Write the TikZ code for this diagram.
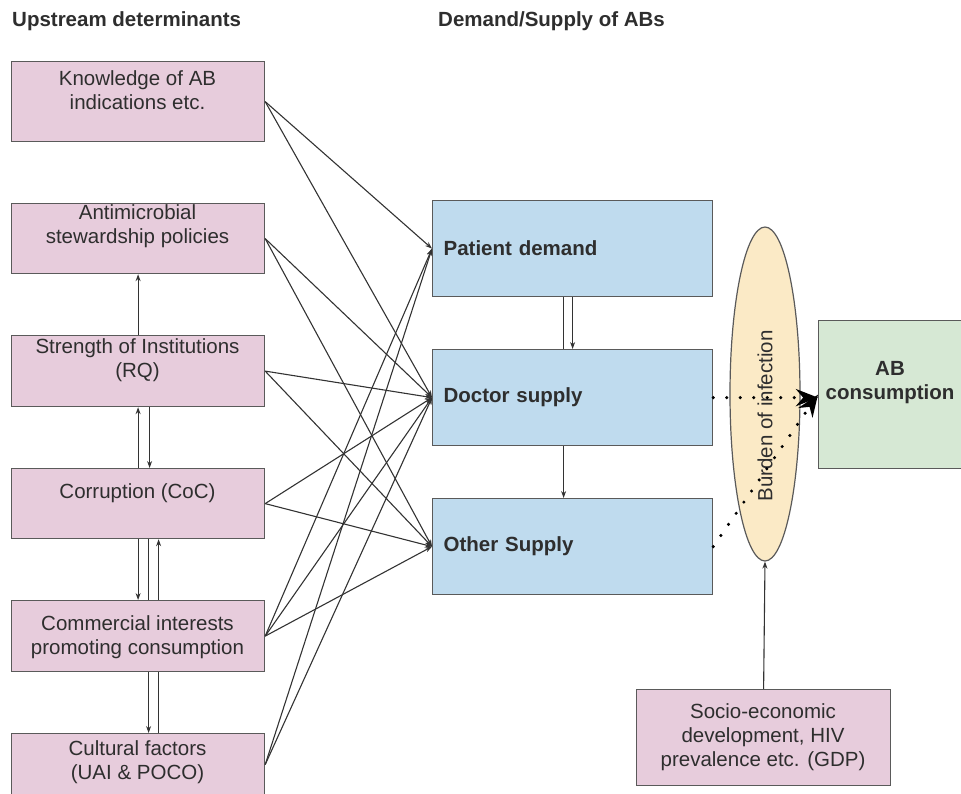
\documentclass[tikz,border=0pt]{standalone}
\usepackage{fontspec}
\setmainfont{Liberation Sans}
\usetikzlibrary{arrows.meta,calc,shapes.geometric}
\definecolor{pinkc}{HTML}{E7CCDC}
\definecolor{bluec}{HTML}{BFDBEE}
\definecolor{greenc}{HTML}{D6E8D4}
\definecolor{yelc}{HTML}{FBEAC6}
\definecolor{edgec}{HTML}{5A5A5A}
\definecolor{linec}{HTML}{333333}
\definecolor{txtc}{HTML}{2E2E2E}
\pgfdeclarelayer{bg}
\pgfsetlayers{bg,main}
\begin{document}
\begin{tikzpicture}[x=1pt,y=-1pt,
  pbox/.style={draw=edgec,line width=1.2pt,fill=pinkc,minimum width=253pt,inner sep=0pt,anchor=north west},
  bbox/.style={draw=edgec,line width=1.2pt,fill=bluec,minimum width=280pt,minimum height=96pt,anchor=north west,
    text width=258pt,align=left,inner xsep=11pt,inner ysep=0pt,font=\fontsize{20.5}{24}\selectfont\bfseries,text=txtc},
  lbl/.style={font=\fontsize{20.5}{24}\selectfont,align=center,text=txtc,inner sep=0pt},
  hdr/.style={font=\fontsize{20.5}{24}\selectfont\bfseries,text=txtc,inner sep=0pt,anchor=west},
  conn/.style={draw=linec,line width=1.1pt,-{Stealth[length=7pt,width=5pt]}},
  dotarr/.style={draw=black,line width=3.4pt,line cap=round,dash pattern=on 0pt off 13.5pt,
    -{Stealth[length=22pt 0,width=17pt 0]}}
]
\useasboundingbox (0,0) rectangle (961,793);

% headers
\node[hdr] (h1) at (12,21) {Upstream determinants};
\node[hdr] (h2) at (438,21) {Demand/Supply of ABs};

% left boxes
\node[pbox,minimum height=80pt] (kn) at (11,61) {};
\node[lbl] (knt) at (137.5,90) {Knowledge of AB\\indications etc.};
\node[pbox,minimum height=70pt] (am) at (11,203) {};
\node[lbl] (amt) at (137.5,226) {Antimicrobial\\stewardship policies};
\node[pbox,minimum height=71pt] (si) at (11,335) {};
\node[lbl] (sit) at (137.5,360) {Strength of Institutions\\(RQ)};
\node[pbox,minimum height=70pt] (co) at (11,468) {};
\node[lbl] (cot) at (137.5,493) {Corruption (CoC)};
\node[pbox,minimum height=71pt] (cm) at (11,600) {};
\node[lbl] (cmt) at (137.5,637) {Commercial interests\\promoting consumption};
\node[pbox,minimum height=62pt] (cu) at (11,733) {};
\node[lbl] (cut) at (137.5,762) {Cultural factors\\(UAI \& POCO)};

% blue boxes
\node[bbox] (pd) at (432,200) {Patient demand};
\node[bbox] (ds) at (432,349) {Doctor supply};
\node[bbox] (os) at (432,498) {Other Supply};

% ellipse
\node[ellipse,draw=edgec,line width=1.2pt,fill=yelc,minimum width=70pt,minimum height=334pt,inner sep=0pt] (bi) at (765,394) {};
\node[lbl,rotate=90] (bit) at (765,416) {Burden of infection};

% AB consumption
\node[draw=edgec,line width=1.2pt,fill=greenc,minimum width=146pt,minimum height=148pt,anchor=north west,inner sep=0pt] (ab) at (818,320) {};
\node[lbl,font=\fontsize{20.5}{24}\selectfont\bfseries] (abt) at (890,383) {AB\\consumption};

% socio-economic box
\node[pbox,minimum width=254pt,minimum height=96pt] (se) at (636,689) {};
\node[lbl] (set) at (763,737) {Socio-economic\\development, HIV\\prevalence etc. (GDP)};

% hidden lines (behind boxes)
\begin{pgfonlayer}{bg}
  \draw[conn] ([xshift=-9pt]pd.south) -- ([xshift=-9pt]os.north);
  \draw[conn] ([xshift=10.5pt]co.south) -- ([xshift=10.5pt]cu.north);
  \draw[conn] ([xshift=20.5pt]cu.north) -- ([xshift=20.5pt]co.south);
\end{pgfonlayer}

% vertical links among left boxes
\draw[conn] (si.north) -- (am.south);
\draw[conn] (co.north) -- (si.south);
\draw[conn] ([xshift=11.5pt]si.south) -- ([xshift=11.5pt]co.north);
\draw[conn] (co.south) -- (cm.north);

% blue links
\draw[conn] (pd.south) -- (ds.north);

% cross links
\draw[conn] (kn.east) -- (pd.west);
\draw[conn] (kn.east) -- (ds.west);
\draw[conn] (am.east) -- (ds.west);
\draw[conn] (am.east) -- (os.west);
\draw[conn] (si.east) -- (ds.west);
\draw[conn] (si.east) -- (os.west);
\draw[conn] (co.east) -- (ds.west);
\draw[conn] (co.east) -- (os.west);
\draw[conn] (cm.east) -- (pd.west);
\draw[conn] (cm.east) -- (ds.west);
\draw[conn] (cm.east) -- (os.west);
\draw[conn] (cu.east) -- (pd.west);
\draw[conn] (cu.east) -- (ds.west);

% socio to ellipse
\draw[conn] (se.north) -- (bi.south);

% dotted arrows
\draw[dotarr] (ds.east) -- (ds.east -| ab.west);
\draw[dotarr] (os.east) -- (ab.west);
\end{tikzpicture}
\end{document}
